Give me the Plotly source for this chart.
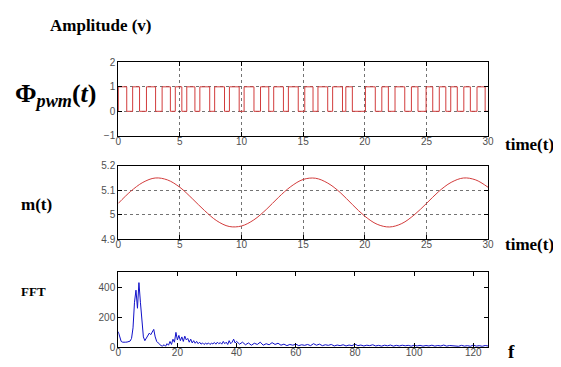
import plotly.graph_objects as go

# ---------------- data ----------------
# PWM pulses: (rise time, fall time)
pwm_rise = [0.00, 1.17, 2.29, 3.56, 4.63, 5.56, 6.62, 7.82, 9.02, 10.21, 11.54, 12.61,
            13.80, 15.13, 16.20, 17.39, 18.46, 20.05, 21.38, 22.45, 23.78, 24.97,
            26.04, 26.97, 28.03, 29.10]
pwm_fall = [0.69, 1.73, 3.03, 4.23, 5.16, 6.22, 7.42, 8.62, 9.81, 11.01, 12.21, 13.40,
            14.60, 15.80, 16.99, 18.19, 18.99, 20.85, 21.91, 23.24, 24.31, 25.51,
            26.57, 27.50, 28.56, 29.76]

m_t = list(range(0, 31))
m_val = [5.046, 5.095, 5.132, 5.150, 5.142, 5.112, 5.066, 5.017, 4.975, 4.952, 4.954,
         4.979, 5.021, 5.071, 5.115, 5.144, 5.149, 5.129, 5.091, 5.041, 4.994, 4.961,
         4.950, 4.964, 4.999, 5.046, 5.095, 5.132, 5.150, 5.142, 5.112]

fft_f_low = [i * 0.5 for i in range(0, 81)]          # 0 .. 40
fft_v_low = [105, 70, 40, 35, 33, 35, 36, 40, 42, 60,
             130, 300, 380, 260, 430, 300, 150, 70, 45, 60,
             80, 95, 85, 100, 120, 70, 40, 30, 20, 12,
             10, 18, 8, 25, 15, 40, 20, 55, 35, 100,
             50, 80, 45, 70, 40, 75, 50, 60, 35, 55,
             30, 45, 28, 40, 25, 35, 22, 30, 20, 28,
             22, 30, 20, 28, 24, 33, 22, 35, 25, 32,
             22, 40, 25, 35, 20, 45, 25, 35, 55, 30,
             40]
fft_f_high = list(range(41, 126))                    # 41 .. 125
fft_v_high = [22, 35, 18, 30, 15, 28, 20, 35, 15, 25,
              18, 32, 20, 28, 15, 22, 12, 20, 15, 22,
              12, 18, 14, 20, 12, 25, 15, 22, 12, 18,
              14, 20, 10, 16, 12, 18, 10, 16, 12, 22,
              12, 16, 10, 15, 12, 18, 10, 14, 9, 15,
              11, 16, 9, 14, 10, 15, 11, 14, 9, 15,
              10, 14, 9, 13, 10, 15, 9, 13, 10, 16,
              9, 13, 10, 12, 8, 14, 9, 12, 8, 16,
              9, 12, 8, 13, 10]

time_ticks = [0, 5, 10, 15, 20, 25, 30]
fft_ticks = [0, 20, 40, 60, 80, 100, 120]

# ---------------- build traces ----------------
px, py = [0.0], [1.0 if pwm_rise[0] == 0 else 0.0]
for r, f in zip(pwm_rise, pwm_fall):
    px += [r, r, f, f]
    py += [0, 1, 1, 0]
px.append(30.0)
py.append(0)

fig = go.Figure()
fig.add_trace(go.Scatter(x=px, y=py, mode="lines", line=dict(color="#d23c3c", width=1),
                         xaxis="x", yaxis="y", showlegend=False))
fig.add_trace(go.Scatter(x=m_t, y=m_val, mode="lines", line=dict(color="#d23c3c", width=1, shape="spline"),
                         xaxis="x2", yaxis="y2", showlegend=False))
fig.add_trace(go.Scatter(x=fft_f_low + fft_f_high, y=fft_v_low + fft_v_high, mode="lines",
                         line=dict(color="#1010c8", width=1),
                         xaxis="x3", yaxis="y3", showlegend=False))

# page body has an 8px margin: size the figure to fit the window
OFF = 8
W, H = 561 - OFF, 367 - OFF


def fx(p):
    return (p - OFF) / W


def fy(p):
    return 1 - (p - OFF) / H


L, R = fx(117), fx(493)

tickfont = dict(family="Liberation Sans, Arial, sans-serif", size=10, color="#505050")
common = dict(showline=True, linecolor="black", linewidth=1, mirror="ticks",
              ticks="inside", ticklen=4, tickcolor="black", tickfont=tickfont,
              zeroline=False, fixedrange=True)
grid = dict(showgrid=True, gridcolor="rgba(0,0,0,0.55)", griddash="dot", gridwidth=1)
nogrid = dict(showgrid=False)
xlab = dict(ticklabelstandoff=-4)

fig.update_layout(
    width=W, height=H, autosize=False,
    margin=dict(l=0, r=0, t=0, b=0),
    paper_bgcolor="white", plot_bgcolor="white",
    xaxis=dict(domain=[L, R], range=[0, 30], tickvals=time_ticks, anchor="y", **common, **grid, **xlab),
    yaxis=dict(domain=[fy(134), fy(58)], range=[-1, 2], tickvals=[-1, 0, 1, 2], anchor="x", **common, **grid),
    xaxis2=dict(domain=[L, R], range=[0, 30], tickvals=time_ticks, anchor="y2", **common, **grid, **xlab),
    yaxis2=dict(domain=[fy(241), fy(165)], range=[4.9, 5.2], tickvals=[4.9, 5.0, 5.1, 5.2],
                ticktext=["4.9", "5", "5.1", "5.2"], anchor="x2", **common, **grid),
    xaxis3=dict(domain=[L, R], range=[0, 125], tickvals=fft_ticks, anchor="y3", **common, **nogrid, **xlab),
    yaxis3=dict(domain=[fy(353), fy(275)], range=[0, 500], tickvals=[0, 200, 400], anchor="x3",
                **common, **nogrid),
)

serif = "Liberation Serif, Times New Roman, serif"


def label(text, x, y, size):
    fig.add_annotation(text=text, x=fx(x), y=fy(y), xref="paper", yref="paper",
                       xanchor="center", yanchor="middle", showarrow=False,
                       font=dict(family=serif, size=size, color="black"))


label("<b>Amplitude (v)</b>", 99, 20, 17)
label("<b>Φ</b><sub><b><i>pwm</i></b></sub><b>(<i>t</i>)</b>", 54, 92, 26)
label("<b>time(t)</b>", 535, 143, 17)
label("<b>m(t)</b>", 34, 205, 17)
label("<b>time(t)</b>", 535, 246, 17)
label("<b>FFT</b>", 31, 295, 13)
label("<b>f</b>", 517, 357, 19)

fig.write_html("out.html")
